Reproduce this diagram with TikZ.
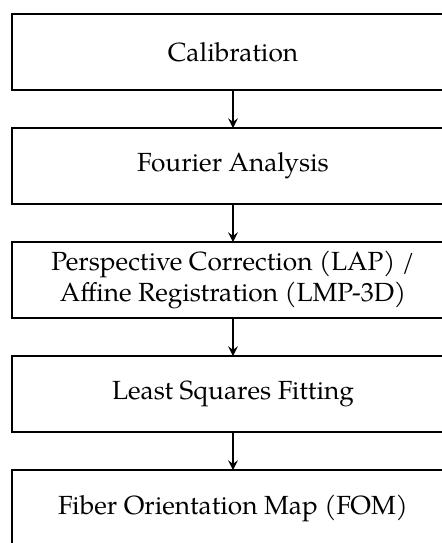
\documentclass[tikz,border=0pt]{standalone}
\usepackage{fontspec}
\setmainfont{TeX Gyre Pagella}
\usetikzlibrary{positioning}
\begin{document}
\begin{tikzpicture}[node distance=15.2pt, every node/.style={draw, line width=0.5pt, minimum width=176.8pt, minimum height=30.4pt, outer sep=0pt, align=center, font=\fontsize{10.5pt}{12.5pt}\selectfont}, line join=miter]
	\useasboundingbox (0, 0) rectangle (176.8pt, -217.2pt);

	% Processing steps
	\node (calib) at (93.2pt, -20.8pt) {Calibration};
	\node[below=of calib] (fourier) {Fourier Analysis};
	\node[below=of fourier] (persp) {Perspective Correction (LAP) /\\Affine Registration (LMP-3D)};
	\node[below=of persp] (lsq) {Least Squares Fitting};
	\node[below=of lsq] (fom) {Fiber Orientation Map (FOM)};

	% Arrows
	\draw[->, >=stealth, line width=0.7pt] (calib) -- (fourier);
	\draw[->, >=stealth, line width=0.7pt] (fourier) -- (persp);
	\draw[->, >=stealth, line width=0.7pt] (persp) -- (lsq);
	\draw[->, >=stealth, line width=0.7pt] (lsq) -- (fom);
\end{tikzpicture}
\end{document}
